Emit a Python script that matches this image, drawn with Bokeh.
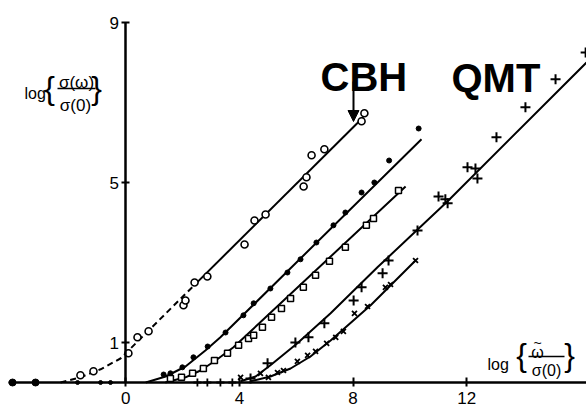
from bokeh.plotting import figure
from bokeh.models import Range1d, LinearAxis, FixedTicker, Label, Arrow, NormalHead, BoxAnnotation
from bokeh.embed import file_html
from bokeh.resources import INLINE

# ---------------- data ----------------
x_ticks = [0, 4, 8, 12]
y_ticks = [1, 5, 9]

# open circles (CBH)
cbh_x = [-1.60, -1.14, 0.09, 0.41, 0.80, 2.03, 2.10, 2.42, 2.87, 4.18, 4.53, 4.92, 6.26, 6.36, 6.54, 6.99, 8.30, 8.40]
cbh_y = [0.18, 0.28, 0.73, 1.13, 1.28, 1.93, 2.05, 2.50, 2.65, 3.45, 4.05, 4.20, 4.90, 5.13, 5.68, 5.83, 6.53, 6.73]
cbh_dash_x = [-2.30, -1.60, -0.89, -0.19, 2.42]
cbh_dash_y = [0.00, 0.13, 0.33, 0.60, 2.44]
cbh_fit_x = [2.42, 8.36]
cbh_fit_y = [2.44, 6.63]

# filled dots
dot_x = [1.33, 1.57, 1.99, 2.38, 2.88, 3.51, 4.14, 4.50, 5.09, 5.69, 6.15, 6.71, 7.31, 7.73, 8.30, 8.75, 9.27, 10.31]
dot_y = [0.20, 0.23, 0.38, 0.63, 0.90, 1.25, 1.68, 1.98, 2.35, 2.75, 3.08, 3.50, 3.93, 4.25, 4.75, 5.00, 5.55, 6.35]
dot_fit_x = [0.70, 1.40, 2.10, 2.80, 3.33, 10.41]
dot_fit_y = [0.00, 0.15, 0.40, 0.80, 1.13, 6.08]

# open squares
sq_x = [1.57, 1.96, 2.35, 2.73, 3.12, 3.58, 3.97, 4.32, 4.50, 4.81, 5.13, 5.48, 5.80, 6.25, 6.68, 7.17, 7.73, 8.47, 8.72, 9.60]
sq_y = [0.10, 0.13, 0.23, 0.35, 0.55, 0.73, 0.93, 1.10, 1.18, 1.38, 1.63, 1.85, 2.10, 2.38, 2.68, 3.03, 3.38, 3.93, 4.10, 4.80]
sq_fit_x = [1.39, 2.10, 2.63, 3.16, 3.79, 9.85]
sq_fit_y = [0.00, 0.13, 0.30, 0.55, 0.88, 4.90]

# plus markers (QMT)
plus_x = [4.39, 4.99, 5.97, 6.43, 6.99, 8.02, 8.30, 9.04, 9.25, 10.27, 11.01, 11.25, 11.33, 12.03, 12.31, 12.38, 13.05, 14.07, 15.13, 16.19]
plus_y = [0.10, 0.48, 1.00, 1.13, 1.48, 2.05, 2.38, 2.73, 3.05, 3.80, 4.65, 4.58, 4.48, 5.38, 5.35, 5.10, 6.13, 6.88, 7.58, 8.25]
plus_fit_x = [4.04, 4.57, 5.09, 6.04, 7.21, 8.86, 11.33, 16.22]
plus_fit_y = [0.03, 0.15, 0.43, 0.98, 1.73, 2.88, 4.53, 8.00]

# cross markers
crs_x = [4.04, 4.74, 5.02, 5.34, 5.55, 6.04, 6.40, 6.68, 7.07, 7.39, 7.66, 8.05, 8.51, 9.14, 9.32, 10.20]
crs_y = [0.13, 0.23, 0.13, 0.25, 0.30, 0.53, 0.68, 0.78, 0.98, 1.13, 1.28, 1.73, 1.90, 2.38, 2.45, 3.05]
crs_fit_x = [4.39, 5.09, 5.80, 6.50, 7.21, 8.62, 10.20]
crs_fit_y = [0.03, 0.15, 0.35, 0.65, 1.05, 1.93, 3.05]

# points lying on the baseline
base_big_x = [-3.99, -3.18]
base_small_x = [-1.70, -0.89, -0.54]
base_plus_x = [2.52, 2.87, 3.33, 3.75]

# ---------------- figure ----------------
PXW, PXH = 586, 409
X0PX, XSCALE = 125.35, 28.4   # layout of the original scan
Y0PX, YSCALE = 382.0, 40.0


def X(px):
    return (px - X0PX) / XSCALE


def Y(py):
    return (Y0PX - py) / YSCALE


p = figure(width=PXW, height=PXH, output_backend="svg", toolbar_location=None,
           x_axis_location=None, y_axis_location=None,
           x_range=Range1d(X(0), X(PXW)), y_range=Range1d(Y(PXH), Y(0)),
           min_border_left=0, min_border_right=0, min_border_top=0, min_border_bottom=0)
p.outline_line_color = None
p.xgrid.visible = False
p.ygrid.visible = False
p.background_fill_color = "white"

FONT = "Liberation Sans"

xa = LinearAxis(fixed_location=0, ticker=FixedTicker(ticks=x_ticks), bounds=(X(8), X(PXW)))
xa.axis_line_width = 2.5
xa.major_tick_in = 5
xa.major_tick_out = 4
xa.major_tick_line_width = 2
xa.minor_tick_line_color = None
xa.major_label_standoff = 5
xa.major_label_text_font = FONT
xa.major_label_text_font_size = "17px"
xa.major_label_text_color = "black"
p.add_layout(xa, "below")

ya = LinearAxis(fixed_location=0, ticker=FixedTicker(ticks=y_ticks), bounds=(0, 9))
ya.axis_line_width = 2.5
ya.major_tick_in = 4
ya.major_tick_out = 4
ya.major_tick_line_width = 2
ya.minor_tick_line_color = None
ya.major_label_standoff = 3
ya.major_label_text_font = FONT
ya.major_label_text_font_size = "17px"
ya.major_label_text_color = "black"
p.add_layout(ya, "left")

LW = 2
# fitted curves
p.line(cbh_dash_x, cbh_dash_y, line_color="black", line_width=LW, line_dash="6 4")
p.line(cbh_fit_x, cbh_fit_y, line_color="black", line_width=LW)
p.line(dot_fit_x, dot_fit_y, line_color="black", line_width=LW)
p.line(sq_fit_x, sq_fit_y, line_color="black", line_width=LW)
p.line(plus_fit_x, plus_fit_y, line_color="black", line_width=LW)
p.line(crs_fit_x, crs_fit_y, line_color="black", line_width=LW)

# markers
p.scatter(cbh_x, cbh_y, marker="circle", size=7, fill_color="white", line_color="black", line_width=1.6)
p.scatter(dot_x, dot_y, marker="circle", size=5, fill_color="black", line_color="black")
p.scatter(sq_x, sq_y, marker="square", size=6, fill_color="white", line_color="black", line_width=1.5)
p.scatter(plus_x, plus_y, marker="cross", size=10, line_color="black", line_width=2)
p.scatter(crs_x, crs_y, marker="x", size=7, line_color="black", line_width=1.8)
p.scatter(base_big_x, [0] * len(base_big_x), marker="circle", size=7, fill_color="black", line_color="black")
p.scatter(base_small_x, [0] * len(base_small_x), marker="circle", size=4, fill_color="black", line_color="black")
p.scatter(base_plus_x, [0] * len(base_plus_x), marker="cross", size=8, line_color="black", line_width=1.8)

# curve names and arrow
for txt, lx, ly in [("CBH", 320, 76), ("QMT", 451, 77)]:
    p.add_layout(Label(x=X(lx), y=Y(ly), text=txt, text_font=FONT, text_font_style="bold",
                       text_font_size="40px", text_align="left", text_baseline="alphabetic", text_color="black"))
p.add_layout(Arrow(end=NormalHead(size=11, fill_color="black", line_color="black"),
                   x_start=X(353), y_start=Y(81), x_end=X(353), y_end=Y(121),
                   line_width=2, line_color="black"))


def lab(px, py, text, size, align="center", baseline="alphabetic"):
    p.add_layout(Label(x=X(px), y=Y(py), text=text, text_font=FONT, text_font_size=size,
                       text_align=align, text_baseline=baseline, text_color="black"))


def frac_label(log_left, log_base, brace_l, brace_r, brace_mid, num, num_cx, num_base,
               bar_l, bar_r, bar_y, den, den_cx, den_base, fs):
    lab(log_left, log_base, "log", "16px", align="left")
    lab(brace_l, brace_mid, "{", "32px", baseline="middle")
    lab(brace_r, brace_mid, "}", "32px", baseline="middle")
    lab(num_cx, num_base, num, fs)
    lab(den_cx, den_base, den, fs)
    p.add_layout(BoxAnnotation(left=X(bar_l), right=X(bar_r), top=Y(bar_y - 0.7), bottom=Y(bar_y + 0.7),
                               fill_color="black", fill_alpha=1, line_color=None))


# y-axis title  log{σ(ω)/σ(0)}
frac_label(24, 93, 49, 96, 87, "σ(ω)", 76, 82, 57, 95, 88, "σ(0)", 75, 105, "17px")
# x-axis title  log{ω̃/σ(0)}
frac_label(487, 364, 521, 569, 354, "ω", 537, 352, 528, 564, 356, "σ(0)", 546, 370, "16px")
lab(537, 342, "~", "14px", baseline="middle")

open("out.html", "w").write(file_html(p, INLINE))
